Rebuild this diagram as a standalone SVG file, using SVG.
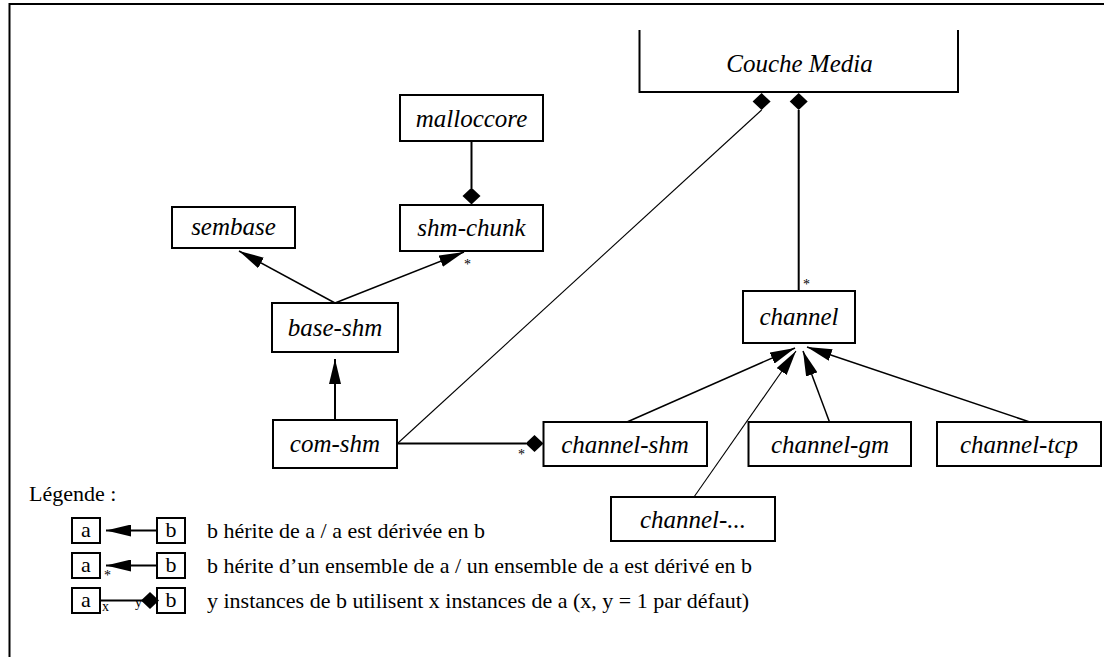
<svg xmlns="http://www.w3.org/2000/svg" xmlns:xlink="http://www.w3.org/1999/xlink" width="1104" height="657" viewBox="0 0 1104 657">
<style>
text{font-family:'Liberation Serif','DejaVu Serif',serif;fill:#000}
.box{fill:#fff;stroke:#000;stroke-width:2}
.nt{font-style:italic;font-size:25px;text-anchor:middle}
.lt{font-size:22px}
.lc{font-size:22px;text-anchor:middle}
.st{font-size:14px}
.inh{stroke:#000;stroke-width:1.5;fill:none;marker-end:url(#arr)}
.thin{stroke:#000;stroke-width:1.1;fill:none}
.thick{stroke:#000;stroke-width:2;fill:none}
</style>
<defs>
<marker id="arr" markerUnits="userSpaceOnUse" markerWidth="25" markerHeight="12" refX="25" refY="6" orient="auto">
<path d="M0,0 L25,6 L0,12 z" fill="#000"/>
</marker>
<polygon id="dia" points="0,-8.5 9,0 0,8.5 -9,0" fill="#000"/>
</defs>
<rect width="1104" height="657" fill="#fff"/>
<path d="M9.5,657 L9.5,4 L1104,4" class="thick"/>

<g id="connectors">
<line x1="471.5" y1="141" x2="471.5" y2="188" class="thick"/>
<use xlink:href="#dia" x="471.5" y="196"/>
<line x1="335" y1="303" x2="239" y2="251" class="inh"/>
<line x1="335" y1="303" x2="464" y2="252" class="inh"/>
<text x="464" y="269" class="st">*</text>
<line x1="335" y1="420" x2="335" y2="359" class="inh" style="stroke-width:2"/>
<use xlink:href="#dia" x="761.6" y="101.5"/>
<line x1="761.6" y1="110" x2="398" y2="443" class="thin"/>
<use xlink:href="#dia" x="798.7" y="101.5"/>
<line x1="798.7" y1="110" x2="798.7" y2="291" class="thick"/>
<text x="803" y="289" class="st">*</text>
<line x1="397" y1="443.5" x2="526" y2="443.5" class="thick"/>
<use xlink:href="#dia" x="534.5" y="443.5"/>
<text x="518" y="459" class="st">*</text>
<line x1="627" y1="422" x2="795" y2="348" class="inh"/>
<line x1="694" y1="497" x2="796" y2="351" class="thin" style="marker-end:url(#arr)"/>
<line x1="829.5" y1="422" x2="803" y2="351" class="inh"/>
<line x1="1029.7" y1="422" x2="807" y2="347" class="inh"/>
</g>

<g id="couche-media">
<path d="M639.5,30 L639.5,92 L958,92 L958,30" class="box"/>
<text x="799.5" y="72" class="nt">Couche Media</text>
</g>
<g id="malloccore">
<rect x="400" y="95" width="143" height="46" class="box"/>
<text x="471.5" y="127" class="nt">malloccore</text>
</g>
<g id="sembase">
<rect x="172" y="207" width="123" height="41" class="box"/>
<text x="233.5" y="235" class="nt">sembase</text>
</g>
<g id="shm-chunk">
<rect x="400" y="205" width="143" height="46" class="box"/>
<text x="471.5" y="236" class="nt">shm-chunk</text>
</g>
<g id="base-shm">
<rect x="272" y="303" width="126" height="49" class="box"/>
<text x="335" y="336" class="nt">base-shm</text>
</g>
<g id="com-shm">
<rect x="273" y="420" width="124" height="48" class="box"/>
<text x="335" y="452" class="nt">com-shm</text>
</g>
<g id="channel">
<rect x="743" y="291" width="112" height="52" class="box"/>
<text x="799" y="325" class="nt">channel</text>
</g>
<g id="channel-shm">
<rect x="543.5" y="422" width="163.5" height="44" class="box"/>
<text x="625" y="453" class="nt">channel-shm</text>
</g>
<g id="channel-gm">
<rect x="748.5" y="422" width="162.5" height="44" class="box"/>
<text x="830" y="453" class="nt">channel-gm</text>
</g>
<g id="channel-tcp">
<rect x="937" y="422" width="164" height="44" class="box"/>
<text x="1019" y="453" class="nt">channel-tcp</text>
</g>
<g id="channel-etc">
<rect x="611" y="497" width="164" height="44" class="box"/>
<text x="693" y="528" class="nt">channel-...</text>
</g>

<g id="legend">
<text x="29" y="501" class="lt">Légende :</text>
<rect x="72" y="518" width="28" height="25" class="box"/>
<text x="86" y="537" class="lc">a</text>
<rect x="157" y="518" width="28" height="25" class="box"/>
<text x="171" y="537" class="lc">b</text>
<line x1="157" y1="530.5" x2="106" y2="530.5" class="inh" style="stroke-width:2"/>
<text x="207" y="538" class="lt">b hérite de a / a est dérivée en b</text>

<rect x="72" y="553" width="28" height="25" class="box"/>
<text x="86" y="572" class="lc">a</text>
<rect x="157" y="553" width="28" height="25" class="box"/>
<text x="171" y="572" class="lc">b</text>
<line x1="157" y1="565.5" x2="106" y2="565.5" class="inh" style="stroke-width:2"/>
<text x="104" y="580" class="st">*</text>
<text x="207" y="573" class="lt">b hérite d’un ensemble de a / un ensemble de a est dérivé en b</text>

<rect x="72" y="588" width="28" height="25" class="box"/>
<text x="86" y="607" class="lc">a</text>
<rect x="157" y="588" width="28" height="25" class="box"/>
<text x="171" y="607" class="lc">b</text>
<line x1="100" y1="600.5" x2="146" y2="600.5" class="thick"/>
<use xlink:href="#dia" x="150" y="600.5"/>
<text x="102" y="611" class="st">x</text>
<text x="135" y="607" class="st">y</text>
<text x="207" y="608" class="lt">y instances de b utilisent x instances de a (x, y = 1 par défaut)</text>
</g>
</svg>
